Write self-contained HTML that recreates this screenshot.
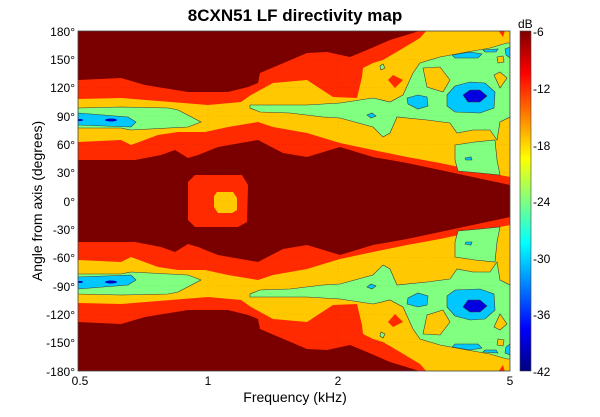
<!DOCTYPE html>
<html><head><meta charset="utf-8"><style>
body{margin:0;background:#fff;}
svg{display:block;font-family:"Liberation Sans",Arial,sans-serif;}
</style></head><body>
<svg width="600" height="417" viewBox="0 0 600 417" xmlns="http://www.w3.org/2000/svg">
<defs>
<linearGradient id="jet" x1="0" y1="0" x2="0" y2="1">
<stop offset="0" stop-color="#800000"/><stop offset="0.125" stop-color="#ff0000"/>
<stop offset="0.375" stop-color="#ffff00"/><stop offset="0.625" stop-color="#00ffff"/>
<stop offset="0.875" stop-color="#0000ff"/><stop offset="1" stop-color="#000080"/>
</linearGradient>
<clipPath id="cp"><rect x="78" y="31" width="432" height="340"/></clipPath>
<g id="half">
<polygon fill="#ff2a00" points="78,80 121,78 145,85 188,92 228,92 248,87 258,83 260,73 307,53 327,52 350,57 367,50 390,40 413,33 422,30 510,30 510,185 440,170 407,163 373,157 340,147 307,157 283,153 258,140 218,147 198,155 188,158 175,150 161,155 135,160 78,160"/>
<polygon fill="#ffc800" points="78,99 121,98 171,102 208,105 241,102 251,95 273,83 307,80 333,97 357,98 362,77 363,68 373,63 383,60 400,50 420,38 427,30 510,30 510,177 473,170 440,163 407,157 373,150 340,143 307,133 273,127 258,122 228,127 205,132 178,132 158,135 131,145 121,140 78,142"/>
<polygon fill="#ff2a00" points="388,80 393,75 403,80 395,88"/>
<polygon fill="#ff2a00" points="498,30 505,30 503,37"/>
<g stroke="#3a3a3a" stroke-width="0.6">
<polygon fill="#80ff80" points="78,108 121,107 168,108 178,110 201,122 188,127 131,130 121,128 78,128"/>
<polygon fill="#80ff80" points="250,105 307,105 340,103 373,98 390,102 403,95 413,73 420,63 440,57 467,52 490,48 507,43 510,43 510,117 500,122 497,140 490,130 473,130 457,133 450,123 427,120 397,117 390,133 383,137 373,127 340,118 323,117 290,113 260,112 250,108"/>
<polygon fill="#ffc800" points="423,68 440,67 450,80 443,92 427,87"/>
<polygon fill="#80ff80" points="455,145 475,142 495,140 497,160 500,175 480,173 458,171 455,160"/>
<polygon fill="#ffc800" points="494,75 500,72 507,78 500,88"/>
<polygon fill="#ffc800" points="497,57 503,56 504,62 498,63"/>
<polygon fill="#80ff80" points="380,66 383,64 385,68 381,70"/>
<polygon fill="#00c8ff" points="78,113 128,117 136,122 131,127 78,125"/>
<polygon fill="#00c8ff" points="407,98 418,95 427,97 428,106 418,109 408,104"/>
<polygon fill="#00c8ff" points="447,95 455,86 470,82 485,83 495,92 494,108 480,113 455,112 447,106"/>
<polygon fill="#0000e0" points="463,95 470,90 480,90 487,96 480,102 468,102"/>
<polygon fill="#00c8ff" points="452,55 470,52 482,54 478,58 455,58"/>
<polygon fill="#00c8ff" points="483,50 498,49 496,52 485,52"/>
<polygon fill="#00c8ff" points="505,49 510,47 510,58 506,55"/>
<polygon fill="#00c8ff" points="367,115 372,113 376,116 371,118"/>
<polygon fill="#00c8ff" points="465,158 471,157 472,160 466,160"/>
</g>
<ellipse cx="111" cy="120" rx="6" ry="1.5" fill="#0000c0"/>
<ellipse cx="80" cy="120" rx="3" ry="1" fill="#0000c0"/>
</g>
</defs>
<text x="295" y="21" text-anchor="middle" font-size="17" font-weight="bold">8CXN51 LF directivity map</text>
<g clip-path="url(#cp)">
<rect x="78" y="31" width="432" height="340" fill="#7a0000"/>
<use href="#half"/>
<use href="#half" transform="matrix(1,0,0,-1,0,402)"/>
<polygon fill="#ff2a00" points="195,175 242,175 248,185 247,222 238,227 195,227 188,220 188,182"/>
<polygon fill="#ffc800" points="217,192 233,192 237,198 237,210 232,213 218,213 214,207 214,196"/>
<g stroke="#000" stroke-opacity="0.12" stroke-width="0.6" stroke-dasharray="1 2">
<line x1="208" y1="31" x2="208" y2="371"/><line x1="338" y1="31" x2="338" y2="371"/>
<line x1="78" y1="59.3" x2="510" y2="59.3"/><line x1="78" y1="87.7" x2="510" y2="87.7"/>
<line x1="78" y1="116" x2="510" y2="116"/><line x1="78" y1="144.3" x2="510" y2="144.3"/>
<line x1="78" y1="172.7" x2="510" y2="172.7"/><line x1="78" y1="201" x2="510" y2="201"/>
<line x1="78" y1="229.3" x2="510" y2="229.3"/><line x1="78" y1="257.7" x2="510" y2="257.7"/>
<line x1="78" y1="286" x2="510" y2="286"/><line x1="78" y1="314.3" x2="510" y2="314.3"/>
<line x1="78" y1="342.7" x2="510" y2="342.7"/>
</g>
</g>
<rect x="78" y="31" width="432" height="340" fill="none" stroke="#444" stroke-width="0.8"/>
<g font-size="12" text-anchor="end">
<text x="75" y="36">180°</text><text x="75" y="64">150°</text><text x="75" y="92">120°</text>
<text x="75" y="121">90°</text><text x="75" y="149">60°</text><text x="75" y="177">30°</text>
<text x="75" y="206">0°</text><text x="75" y="234">-30°</text><text x="75" y="262">-60°</text>
<text x="75" y="291">-90°</text><text x="75" y="319">-120°</text><text x="75" y="347">-150°</text>
<text x="75" y="376">-180°</text>
</g>
<g font-size="12" text-anchor="middle">
<text x="80" y="385">0.5</text><text x="208" y="385">1</text><text x="338" y="385">2</text><text x="510" y="385">5</text>
</g>
<text x="295" y="402" text-anchor="middle" font-size="14">Frequency (kHz)</text>
<text transform="translate(42,201) rotate(-90)" text-anchor="middle" font-size="14">Angle from axis (degrees)</text>
<rect x="520" y="31" width="11" height="340" fill="url(#jet)" stroke="#444" stroke-width="0.6"/>
<g font-size="12">
<text x="518" y="28">dB</text>
<text x="533" y="36">-6</text><text x="533" y="93">-12</text><text x="533" y="150">-18</text>
<text x="533" y="206">-24</text><text x="533" y="263">-30</text><text x="533" y="319">-36</text><text x="533" y="376">-42</text>
</g>
</svg>
</body></html>
